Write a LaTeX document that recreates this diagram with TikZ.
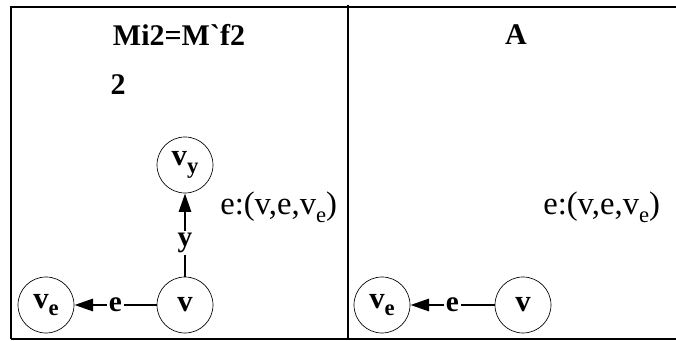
\documentclass[tikz,border=0pt]{standalone}
\usepackage{fontspec}
\setmainfont{Liberation Serif}
\usetikzlibrary{arrows.meta}
\newcommand{\vsub}[1]{\raisebox{-0.55ex}{\fontsize{17}{17}\selectfont #1}}
\begin{document}
\begin{tikzpicture}[x=0.75pt,y=-0.75pt,
  vert/.style={circle,draw,line width=0.5pt,minimum size=42pt,inner sep=0pt,
    font=\fontsize{23}{23}\selectfont\bfseries},
  link/.style={line width=2.2pt,-{Triangle[length=14pt,width=9pt]}},
  lab/.style={fill=white,inner sep=1.5pt,font=\fontsize{22}{22}\selectfont\bfseries},
  head/.style={font=\fontsize{22.5}{22.5}\selectfont\bfseries},
  tuple/.style={font=\fontsize{24.5}{24.5}\selectfont},
  rule/.style={line width=1.5pt}]
  \useasboundingbox (0,0) rectangle (676,341);
  % Table frame
  \draw[rule] (11,339) -- (11,7) -- (676,7);
  \draw[line width=1pt] (11,339) -- (676,339);
  \draw[rule] (348,5) -- (348,339);
  % Headings
  \node[head] (headL) at (179,35) {Mi2=M\textasciigrave f2};
  \node[head,anchor=west] (numL) at (106,85) {2};
  \node[head] (headR) at (516,35) {A};
  % Left graph
  \node[vert] (vL) at (185,305) {v};
  \node[vert] (veL) at (46,305) {v\vsub{e}};
  \node[vert] (vyL) at (185,165) {v\vsub{y}};
  \draw[link] (vL) -- node[lab] {e} (veL);
  \draw[link] (vL) -- node[lab,pos=0.4] {y} (vyL);
  \node[tuple,anchor=west,inner sep=0pt] (tupL) at (220,207) {e:(v,e,v\vsub{e})};
  % Right graph
  \node[vert] (vR) at (523,305) {v};
  \node[vert] (veR) at (382,305) {v\vsub{e}};
  \draw[link] (vR) -- node[lab] {e} (veR);
  \node[tuple,anchor=west,inner sep=0pt] (tupR) at (543,207) {e:(v,e,v\vsub{e})};
\end{tikzpicture}
\end{document}
